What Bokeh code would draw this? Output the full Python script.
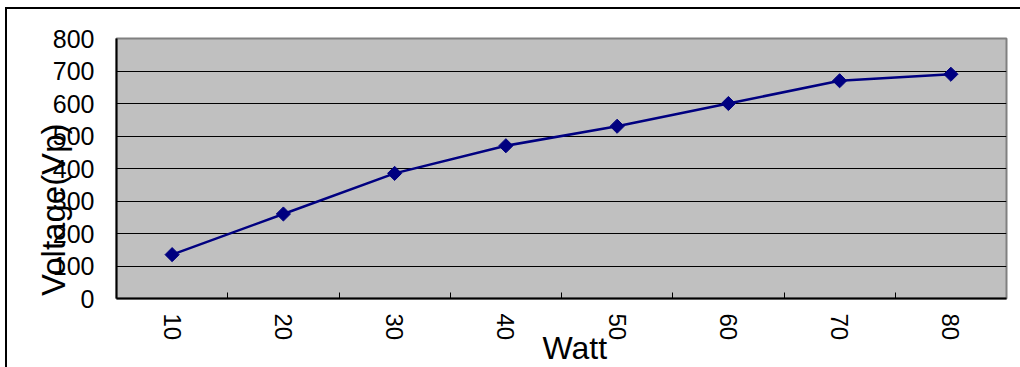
import numpy as np
from bokeh.plotting import figure
from bokeh.models import FixedTicker
from bokeh.embed import file_html
from bokeh.resources import INLINE

watts = [10, 20, 30, 40, 50, 60, 70, 80]
voltage = [135, 260, 385, 470, 530, 600, 670, 690]
y_ticks = [0, 100, 200, 300, 400, 500, 600, 700, 800]
x_minor = [15, 25, 35, 45, 55, 65, 75]
y_title = "Voltage(Vp)"
x_title = "Watt"

FONT = "Liberation Sans"
NBSP = "\u00a0"

p = figure(frame_width=890, frame_height=260,
           min_border_left=109, min_border_right=14,
           min_border_top=29, min_border_bottom=69,
           x_range=(5, 85), y_range=(0, 800),
           output_backend="svg", toolbar_location=None,
           margin=(7, 0, 0, 5),
           styles={"border-top": "2px solid black", "border-left": "2px solid black"})

p.background_fill_color = "#C0C0C0"
p.border_fill_color = "white"
p.outline_line_color = "#808080"
p.outline_line_width = 2

p.xgrid.visible = False
p.ygrid.grid_line_color = "black"
p.ygrid.grid_line_width = 1
p.ygrid.ticker = FixedTicker(ticks=y_ticks)

# y axis
p.yaxis.ticker = FixedTicker(ticks=y_ticks)
p.yaxis.major_tick_in = 0
p.yaxis.major_tick_out = 0
p.yaxis.minor_tick_in = 0
p.yaxis.minor_tick_out = 0
p.yaxis.axis_line_color = "black"
p.yaxis.axis_line_width = 2
p.yaxis.major_label_text_font = FONT
p.yaxis.major_label_text_font_size = "25px"
p.yaxis.major_label_text_color = "black"
p.yaxis.major_label_standoff = 22
# trailing non-breaking spaces shift the centred title toward the bottom
p.yaxis.axis_label = y_title + NBSP * 9
p.yaxis.axis_label_text_font = FONT
p.yaxis.axis_label_text_font_size = "33px"
p.yaxis.axis_label_text_font_style = "normal"
p.yaxis.axis_label_text_color = "black"
p.yaxis.axis_label_standoff = -22

# x axis
p.xaxis.ticker = FixedTicker(ticks=watts, minor_ticks=x_minor)
p.xaxis.major_tick_in = 0
p.xaxis.major_tick_out = 0
p.xaxis.minor_tick_in = 6
p.xaxis.minor_tick_out = 0
p.xaxis.minor_tick_line_color = "black"
p.xaxis.minor_tick_line_width = 1
p.xaxis.axis_line_color = "black"
p.xaxis.axis_line_width = 2
p.xaxis.major_label_orientation = -np.pi / 2
p.xaxis.major_label_text_font = FONT
p.xaxis.major_label_text_font_size = "24px"
p.xaxis.major_label_text_color = "black"
p.xaxis.major_label_standoff = 15
p.xaxis.axis_label = NBSP * 3 + x_title
p.xaxis.axis_label_text_font = FONT
p.xaxis.axis_label_text_font_size = "32px"
p.xaxis.axis_label_text_font_style = "normal"
p.xaxis.axis_label_text_color = "black"
p.xaxis.axis_label_standoff = -13

p.line(watts, voltage, line_color="#000080", line_width=2.5)
p.scatter(watts, voltage, marker="square", angle=np.pi / 4, size=10,
          fill_color="#000080", line_color="#000080")

open("out.html", "w").write(file_html(p, INLINE))
